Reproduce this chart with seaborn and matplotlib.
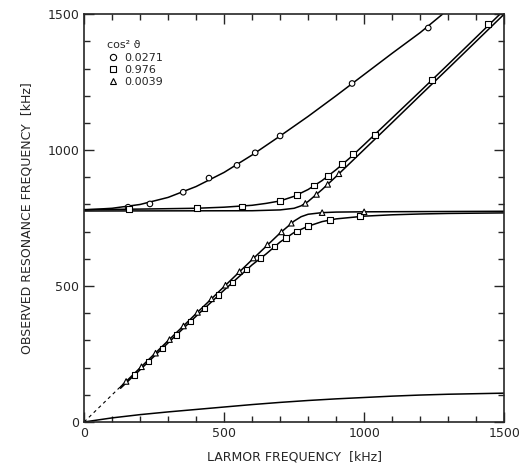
import pandas as pd
import matplotlib
matplotlib.use('Agg')
import matplotlib.pyplot as plt
import seaborn as sns
from matplotlib.lines import Line2D
from matplotlib.ticker import MultipleLocator

# Curve data (kHz)
# cos^2 = 0.0271 : upper and lower branch
a_up_x = [0, 100, 200, 300, 400, 500, 600, 700, 800, 900, 1000, 1100, 1200, 1280]
a_up_y = [780, 786, 800, 826, 866, 918, 982, 1052, 1124, 1200, 1278, 1356, 1432, 1500]
a_lo_x = [0, 100, 200, 300, 400, 500, 600, 700, 800, 900, 1000, 1100, 1200, 1300, 1400, 1500]
a_lo_y = [0, 15, 27, 37, 46, 55, 64, 72, 79, 85, 90, 95, 99, 102, 104, 106]

# cos^2 = 0.976 : upper and lower branch
b_up_x = [0, 200, 400, 500, 600, 650, 700, 750, 800, 850, 900, 950, 1000, 1100, 1200, 1300, 1400, 1485]
b_up_y = [781, 783, 786, 790, 797, 804, 813, 830, 855, 888, 928, 972, 1020, 1118, 1216, 1315, 1415, 1500]
b_lo_x = [130, 200, 300, 400, 500, 600, 650, 700, 750, 800, 850, 900, 1000, 1100, 1200, 1300, 1400, 1500]
b_lo_y = [124, 192, 291, 389, 485, 578, 618, 662, 697, 720, 737, 747, 757, 762, 765, 767, 768, 769]

# cos^2 = 0.0039 : upper and lower branch
c_up_x = [0, 600, 700, 750, 775, 800, 850, 900, 1000, 1100, 1200, 1300, 1400, 1500]
c_up_y = [776, 777, 780, 786, 795, 811, 855, 903, 1002, 1101, 1201, 1300, 1400, 1500]
c_lo_x = [130, 300, 500, 600, 700, 750, 775, 800, 850, 900, 1000, 1500]
c_lo_y = [129, 299, 498, 597, 695, 739, 755, 764, 770, 772, 773, 775]

dash_x = [0, 140]
dash_y = [0, 140]

# measured points
circ_x = [157, 235, 354, 446, 546, 611, 700, 957, 1229]
circ_y = [790, 802, 845, 897, 944, 990, 1052, 1245, 1449]
sq_x = [180, 230, 280, 330, 380, 430, 480, 530, 580, 630, 680, 720, 760, 800, 879, 986,
        161, 403, 564, 700, 760, 820, 870, 920, 960, 1039, 1243, 1443]
sq_y = [173, 222, 271, 320, 369, 418, 466, 513, 560, 604, 646, 676, 701, 720, 743, 757,
        783, 787, 792, 813, 835, 870, 905, 948, 985, 1055, 1257, 1463]
tri_x = [150, 205, 255, 305, 355, 405, 455, 505, 555, 605, 655, 705, 740, 790, 830, 870, 910, 850, 1000]
tri_y = [149, 203, 253, 303, 353, 403, 453, 503, 553, 603, 652, 699, 731, 804, 837, 874, 913, 770, 773]

labels = ['0.0271', '0.976', '0.0039']
markers = {'0.0271': 'o', '0.976': 's', '0.0039': '^'}

lines = pd.concat([
    pd.DataFrame({'x': a_up_x, 'y': a_up_y, 'branch': 'a_up'}),
    pd.DataFrame({'x': a_lo_x, 'y': a_lo_y, 'branch': 'a_lo'}),
    pd.DataFrame({'x': b_up_x, 'y': b_up_y, 'branch': 'b_up'}),
    pd.DataFrame({'x': b_lo_x, 'y': b_lo_y, 'branch': 'b_lo'}),
    pd.DataFrame({'x': c_up_x, 'y': c_up_y, 'branch': 'c_up'}),
    pd.DataFrame({'x': c_lo_x, 'y': c_lo_y, 'branch': 'c_lo'}),
])
points = pd.concat([
    pd.DataFrame({'x': circ_x, 'y': circ_y, 'cos2': labels[0]}),
    pd.DataFrame({'x': sq_x, 'y': sq_y, 'cos2': labels[1]}),
    pd.DataFrame({'x': tri_x, 'y': tri_y, 'cos2': labels[2]}),
])

sns.set_style('ticks')
plt.rcParams['font.family'] = ['DejaVu Sans']

fig = plt.figure(figsize=(5.29, 4.72), dpi=100)
ax = fig.add_axes([0.159, 0.106, 0.794, 0.864])

sns.lineplot(data=lines, x='x', y='y', units='branch', estimator=None, sort=False,
             color='black', lw=1.1, ax=ax)
sns.lineplot(x=dash_x, y=dash_y, color='black', lw=0.8, linestyle=(0, (3, 3)), ax=ax)
sns.scatterplot(data=points, x='x', y='y', style='cos2', markers=markers,
                color='white', edgecolor='black', linewidth=0.8, s=16,
                legend=False, zorder=3, ax=ax)

ax.set_xlim(0, 1500)
ax.set_ylim(0, 1500)
ax.set_xticks([0, 500, 1000, 1500])
ax.set_yticks([0, 500, 1000, 1500])
ax.xaxis.set_minor_locator(MultipleLocator(100))
ax.yaxis.set_minor_locator(MultipleLocator(100))
ax.tick_params(which='both', direction='in', top=True, right=True, labelsize=9, width=1)
ax.tick_params(which='major', length=7)
ax.tick_params(which='minor', length=4)
for s in ax.spines.values():
    s.set_linewidth(1.2)

ax.set_xlabel('LARMOR FREQUENCY  [kHz]', fontsize=9, labelpad=8)
ax.set_ylabel('OBSERVED RESONANCE FREQUENCY  [kHz]', fontsize=9, labelpad=10)

handles = [Line2D([], [], ls='', marker=markers[l], mfc='white', mec='black', ms=4.5, mew=0.8)
           for l in labels]
leg = ax.legend(handles, labels, title='cos² ϑ', loc='upper left', frameon=False,
                bbox_to_anchor=(0.03, 0.96), fontsize=8, title_fontsize=8,
                handletextpad=0.4, labelspacing=0.2, handlelength=1.2)
leg._legend_box.align = 'left'

plt.savefig('out.png', dpi=100)
